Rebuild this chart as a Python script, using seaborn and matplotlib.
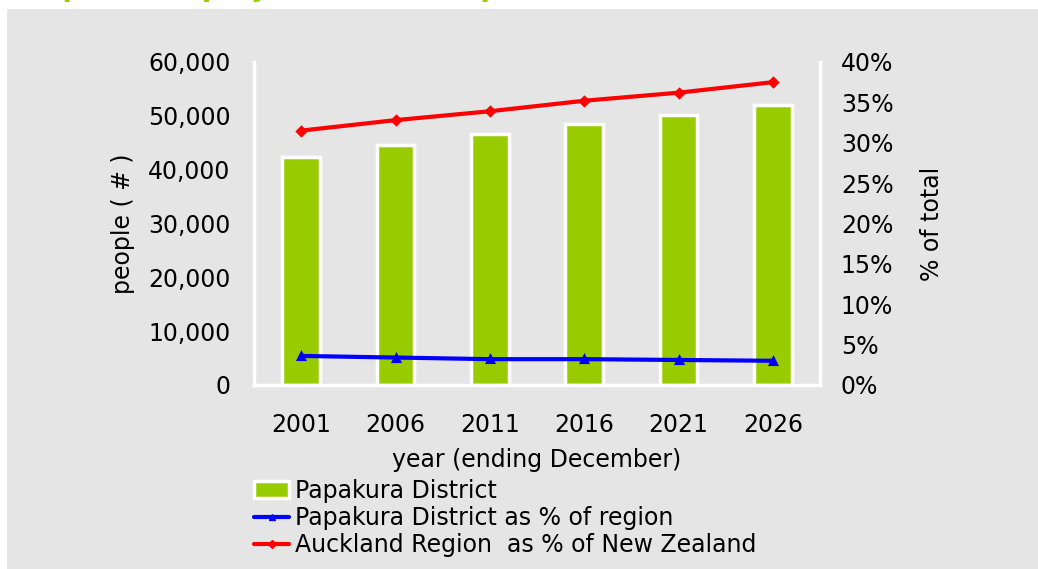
import matplotlib
matplotlib.use("Agg")
import matplotlib.pyplot as plt
import numpy as np
import pandas as pd
import seaborn as sns
from matplotlib.patches import Rectangle, Patch
from matplotlib.lines import Line2D
from matplotlib.ticker import FuncFormatter, MultipleLocator

# ---- data ----
years = ["2001", "2006", "2011", "2016", "2021", "2026"]
population = [42400, 44600, 46600, 48500, 50200, 52000]
district_share_of_region = [3.6, 3.4, 3.2, 3.2, 3.1, 3.0]
region_share_of_nz = [31.5, 32.8, 33.9, 35.2, 36.2, 37.5]
series_labels = ["Papakura District",
                 "Papakura District as % of region",
                 "Auckland Region  as % of New Zealand"]
title_text = "Population projections for Papakura District"
x_label = "year (ending December)"
y_label = "people ( # )"
y2_label = "% of total"

GREEN = "#99cc00"
BG = "#e5e5e5"

sns.set_theme(style="white")
plt.rcParams["font.family"] = ["DejaVu Sans"]
plt.rcParams["text.color"] = "black"
plt.rcParams["axes.labelcolor"] = "black"
plt.rcParams["xtick.color"] = "black"
plt.rcParams["ytick.color"] = "black"

W, H = 1038, 569
fig = plt.figure(figsize=(W / 100, H / 100), dpi=100, facecolor="white")
fig.patches.append(Rectangle((7 / W, 0), 1, 1 - 9 / H, transform=fig.transFigure,
                             facecolor=BG, edgecolor="none", zorder=-10))

# cut-off title at the very top
fig.text(23 / W, 1 + 3.6 / H, title_text, color=GREEN, fontsize=20,
         fontweight="bold", ha="left", va="baseline")

ax = fig.add_axes([254 / W, 1 - 385 / H, (820 - 254) / W, (385 - 62) / H])
ax.set_facecolor("none")
ax.set_zorder(1)

df = pd.DataFrame({"year": years, "population": population,
                   "district": district_share_of_region,
                   "region": region_share_of_nz})

sns.barplot(data=df, x="year", y="population", color=GREEN, saturation=1,
            width=0.4, edgecolor="white", linewidth=2.5, ax=ax, zorder=2)

ax2 = ax.twinx()
ax2.set_facecolor("none")
ax2.set_zorder(2)
sns.pointplot(data=df, x="year", y="district", color="blue", marker="^",
              markersize=5, linewidth=3, errorbar=None, ax=ax2)
sns.pointplot(data=df, x="year", y="region", color="red", marker="D",
              markersize=4, linewidth=3, errorbar=None, ax=ax2)

ax.set_xlim(-0.5, 5.5)
ax.set_ylim(0, 60000)
ax2.set_ylim(0, 40)
ax.yaxis.set_major_locator(MultipleLocator(10000))
ax2.yaxis.set_major_locator(MultipleLocator(5))
ax.yaxis.set_major_formatter(FuncFormatter(lambda v, p: f"{v:,.0f}"))
ax2.yaxis.set_major_formatter(FuncFormatter(lambda v, p: f"{v:.0f}%"))

for a in (ax, ax2):
    for s in a.spines.values():
        s.set_visible(False)
for side in ("left", "bottom"):
    ax.spines[side].set_visible(True)
    ax.spines[side].set_color("white")
    ax.spines[side].set_linewidth(2.5)
ax2.spines["right"].set_visible(True)
ax2.spines["right"].set_color("white")
ax2.spines["right"].set_linewidth(2.5)

ax.tick_params(axis="y", length=0, labelsize=17, pad=17, colors="black")
ax.tick_params(axis="x", length=0, labelsize=17, pad=20, colors="black")
ax2.tick_params(axis="y", length=0, labelsize=17, pad=15, colors="black")

ax.set_xlabel(x_label, fontsize=17, labelpad=8, color="black")
ax.set_ylabel(y_label, fontsize=17, labelpad=9, color="black")
ax2.set_ylabel(y2_label, fontsize=17, labelpad=19, color="black")

handles = [Patch(facecolor=GREEN, edgecolor="white", linewidth=2.5),
           Line2D([], [], color="blue", marker="^", markersize=5, lw=3),
           Line2D([], [], color="red", marker="D", markersize=4, lw=3)]
fig.legend(handles, series_labels, loc="upper left",
           bbox_to_anchor=(254 / W, 1 - 479 / H), frameon=False, fontsize=17,
           handlelength=1.5, handletextpad=0.25, labelspacing=0.13,
           borderaxespad=0, borderpad=0, labelcolor="black")

fig.savefig("out.png", dpi=100, facecolor="white")
